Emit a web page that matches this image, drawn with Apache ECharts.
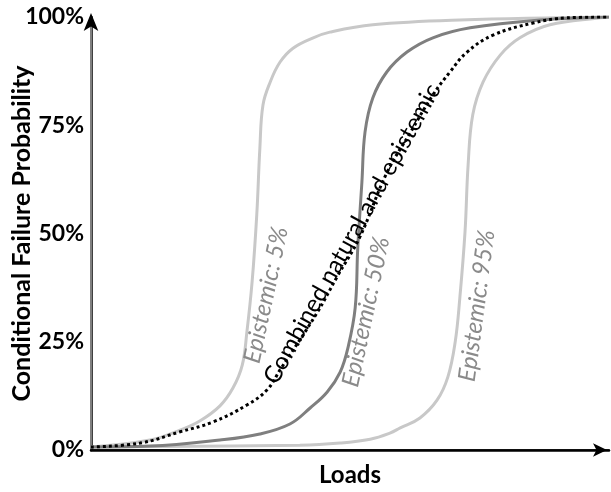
<!DOCTYPE html>
<html>
<head>
<meta charset="utf-8">
<script src="https://cdn.jsdelivr.net/npm/echarts@6/dist/echarts.min.js"></script>
<style>
html,body{margin:0;padding:0;background:#fff;}
#chart{width:611px;height:492px;}
</style>
</head>
<body>
<div id="chart"></div>
<script>
// Data (x: Loads in relative units 0..100, y: probability in %)
const yTickLabels = ['0%', '25%', '50%', '75%', '100%'];
const xAxisName = 'Loads';
const yAxisName = 'Conditional Failure Probability';

const epistemic5 = [
  [0, 0.7], [11.4, 2.3], [17.2, 4.6], [21.0, 6.7], [24.9, 10.2], [27.4, 14.3],
  [29.2, 19.6], [30.1, 27.3], [31.1, 38.8], [32.0, 54.3], [32.6, 69.7],
  [33.2, 79.7], [34.6, 85.0], [36.5, 89.6], [39.0, 92.8], [42.9, 95.2],
  [46.1, 96.5], [54.4, 98.2], [71.2, 99.3], [100, 100]
];
const epistemic50 = [
  [0, 0.7], [11.4, 0.9], [24.9, 2.3], [32.6, 3.7], [38.4, 6.0], [42.3, 9.7],
  [45.6, 13.4], [48.1, 18.0], [49.6, 23.6], [51.0, 32.8], [51.5, 46.7],
  [52.3, 61.9], [52.9, 73.4], [54.4, 81.3], [57.1, 87.3], [61.0, 91.9],
  [66.0, 95.2], [73.2, 97.5], [86.7, 99.3], [100, 100]
];
const epistemic95 = [
  [0, 0.7], [40.3, 1.1], [48.1, 1.6], [53.9, 2.5], [57.7, 3.9], [59.7, 5.1],
  [63.5, 7.4], [66.8, 11.5], [68.9, 16.9], [70.3, 24.9], [71.2, 35.1],
  [72.2, 50.3], [72.8, 65.8], [73.7, 77.4], [75.7, 85.0], [79.0, 91.2],
  [82.8, 95.2], [88.6, 98.2], [98.3, 99.8], [100, 100]
];
const combined = [
  [0, 0.7], [9.5, 1.6], [17.2, 4.2], [23.6, 6.5], [30.1, 10.4], [34.0, 13.9],
  [36.5, 18.5], [43.6, 31.6], [47.5, 40.0], [51.9, 49.2], [57.1, 64.0],
  [61.6, 73.2], [66.0, 82.0], [69.3, 87.3], [72.6, 91.9], [77.6, 95.8],
  [85.3, 98.6], [91.9, 99.8], [100, 100]
];
// Curve annotations: [x, y, text, angle in degrees, tone]
const annotations = [
  [33.8, 35.8, 'Epistemic: 5%', 78, 'grey'],
  [53.1, 31.9, 'Epistemic: 50%', 78, 'grey'],
  [74.5, 33.3, 'Epistemic: 95%', 82.5, 'grey'],
  [50.4, 49.9, 'Combined natural and epistemic', 61, 'black']
];

const FONT = 'Lato, "Open Sans", sans-serif';
const chart = echarts.init(document.getElementById('chart'), null, {renderer: 'canvas'});

function lineSeries(data, color, type) {
  return {
    type: 'line', data: data, showSymbol: false, symbol: 'none',
    smooth: 0.4,
    lineStyle: {color: color, width: 3, type: type || 'solid', cap: 'butt'},
    silent: true, animation: false
  };
}

chart.setOption({
  animation: false,
  grid: {left: 91, right: 2, top: 17, bottom: 42, containLabel: false, outerBoundsMode: 'none'},
  xAxis: [{
    type: 'value', min: 0, max: 100,
    name: xAxisName, nameLocation: 'middle', nameGap: 25, nameMoveOverlap: false,
    nameTextStyle: {fontFamily: FONT, fontWeight: 'bold', fontSize: 24, color: '#000', verticalAlign: 'middle'},
    axisLine: {show: true, lineStyle: {color: '#000', width: 2.5}, symbol: ['none', 'arrow'], symbolSize: [10, 14], symbolOffset: [0, -2]},
    axisTick: {show: false}, axisLabel: {show: false}, splitLine: {show: false}
  }, {
    type: 'value', min: 0, max: 100, position: 'top',
    axisLine: {show: true, lineStyle: {color: '#000', width: 1.5}},
    axisTick: {show: false}, axisLabel: {show: false}, splitLine: {show: false}
  }],
  yAxis: [{
    type: 'value', min: 0, max: 100, interval: 25,
    name: yAxisName, nameLocation: 'middle', nameGap: 69, nameMoveOverlap: false,
    nameTextStyle: {fontFamily: FONT, fontWeight: 'bold', fontSize: 25, color: '#000', verticalAlign: 'middle'},
    axisLine: {show: true, lineStyle: {color: '#000', width: 2.5}, symbol: ['none', 'arrow'], symbolSize: [11, 18], symbolOffset: [0, 4]},
    axisTick: {show: false},
    axisLabel: {
      margin: 7, fontFamily: FONT, fontWeight: 'bold', fontSize: 23, color: '#000',
      formatter: function (v) { return yTickLabels[Math.round(v / 25)] || ''; }
    },
    splitLine: {show: false}
  }, {
    type: 'value', min: 0, max: 100, position: 'right',
    axisLine: {show: true, lineStyle: {color: '#808080', width: 2}},
    axisTick: {show: false}, axisLabel: {show: false}, splitLine: {show: false}
  }],
  series: [
    lineSeries(epistemic95, '#c8c8c8'),
    lineSeries(epistemic5, '#c8c8c8'),
    lineSeries(epistemic50, '#7f7f7f'),
    lineSeries(combined, '#000', [3, 3])
  ]
});

const graphics = annotations.map(function (a) {
  const p = chart.convertToPixel({gridIndex: 0}, [a[0], a[1]]);
  const isGrey = a[4] === 'grey';
  return {
    type: 'text', x: p[0], y: p[1], rotation: a[3] * Math.PI / 180, z: 100,
    silent: true,
    style: {
      text: a[2], fontFamily: FONT, fontSize: 24,
      fontStyle: isGrey ? 'italic' : 'normal', fontWeight: 'normal',
      fill: isGrey ? '#8a8a8a' : '#000', align: 'center', verticalAlign: 'middle'
    }
  };
});
chart.setOption({graphic: graphics});
</script>
</body>
</html>
